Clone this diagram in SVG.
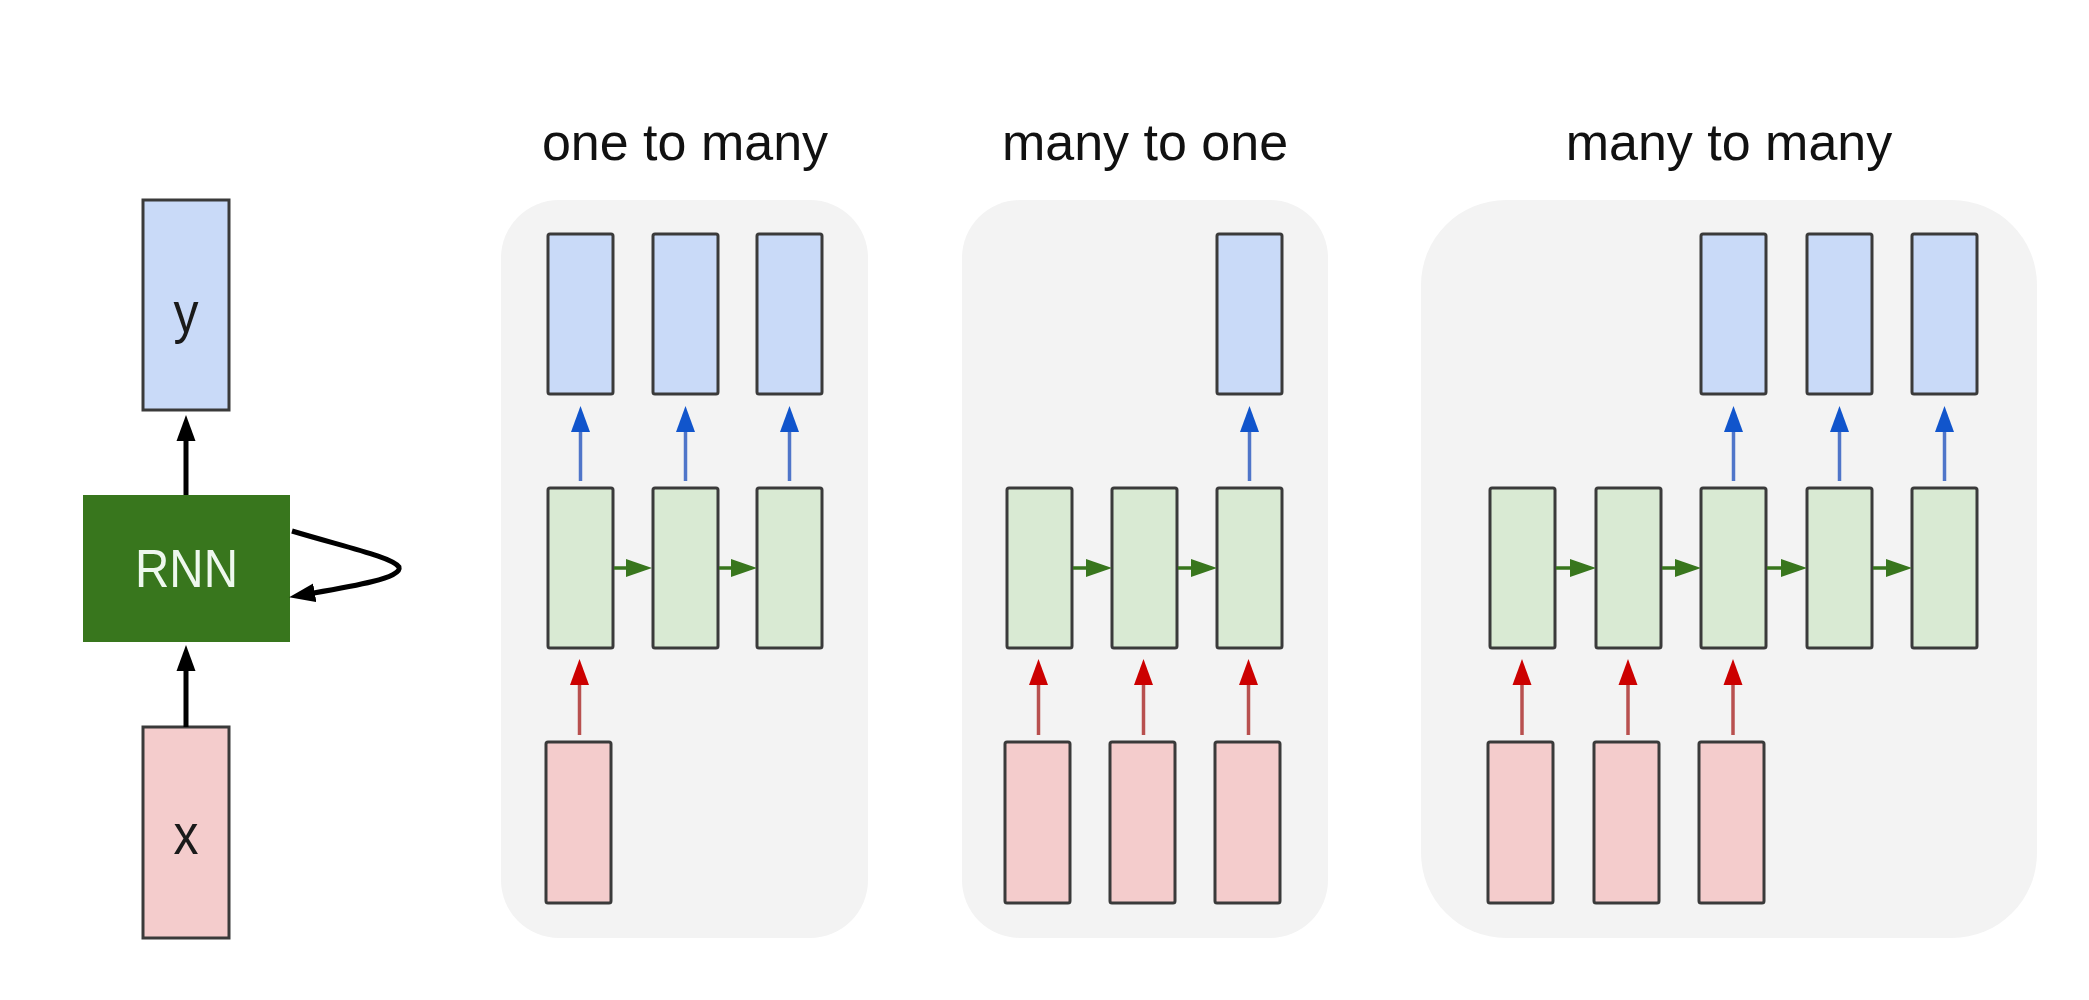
<svg xmlns="http://www.w3.org/2000/svg" width="2089" height="1000" viewBox="0 0 2089 1000">
<style>
.bg{fill:#f3f3f3}
.box{stroke:#3a3a3a;stroke-width:3}
.o{fill:#c9daf8}
.h{fill:#d9ead3}
.i{fill:#f4cccc}
.title{font-family:"Liberation Sans",Arial,sans-serif;font-size:52px;fill:#111;text-anchor:middle}
.lbl{font-family:"Liberation Sans",Arial,sans-serif;font-size:58px;fill:#1a1a1a;text-anchor:middle}
.blk{stroke:#000;stroke-width:5;fill:none}
.bl{stroke:#4f75c9;stroke-width:3.5;fill:none}
.rd{stroke:#b8504f;stroke-width:3.5;fill:none}
.gr{stroke:#38761d;stroke-width:3.5;fill:none}
</style>
<defs>
<marker id="mk" viewBox="0 0 26 20" markerWidth="26" markerHeight="20" refX="16" refY="10" orient="auto" markerUnits="userSpaceOnUse"><path d="M0,0.5 L26,10 L0,19.5 z" fill="#000"/></marker>
<marker id="mb" viewBox="0 0 26 20" markerWidth="26" markerHeight="20" refX="16" refY="10" orient="auto" markerUnits="userSpaceOnUse"><path d="M0,0.5 L26,10 L0,19.5 z" fill="#1155cc"/></marker>
<marker id="mr" viewBox="0 0 26 20" markerWidth="26" markerHeight="20" refX="16" refY="10" orient="auto" markerUnits="userSpaceOnUse"><path d="M0,0.5 L26,10 L0,19.5 z" fill="#cc0000"/></marker>
<marker id="mg" viewBox="0 0 26 19" markerWidth="26" markerHeight="19" refX="16" refY="9.5" orient="auto" markerUnits="userSpaceOnUse"><path d="M0,0.5 L26,9.5 L0,18.5 z" fill="#38761d"/></marker>
</defs>
<rect width="2089" height="1000" fill="#fff"/>

<g id="titles">
<text class="title" x="685" y="160">one to many</text>
<text class="title" x="1145" y="160">many to one</text>
<text class="title" x="1729" y="160">many to many</text>
</g>

<g id="panels">
<rect class="bg" x="501" y="200" width="367" height="738" rx="58"/>
<rect class="bg" x="962" y="200" width="366" height="738" rx="58"/>
<rect class="bg" x="1421" y="200" width="616" height="738" rx="85"/>
</g>

<g id="node-y"><rect class="box o" x="143" y="200" width="86" height="210"/><text class="lbl" x="186" y="332" textLength="25" lengthAdjust="spacingAndGlyphs">y</text></g>
<g id="node-rnn"><rect x="83" y="495" width="207" height="147" fill="#38761d"/><text x="186.5" y="587" font-family="Liberation Sans, Arial, sans-serif" font-size="54" fill="#eef8ee" text-anchor="middle" textLength="103" lengthAdjust="spacingAndGlyphs">RNN</text></g>
<g id="node-x"><rect class="box i" x="143" y="727" width="86" height="211"/><text class="lbl" x="186" y="854" textLength="25" lengthAdjust="spacingAndGlyphs">x</text></g>

<g id="p1-nodes">
<rect id="p1-y1" class="box o" x="548" y="234" width="65" height="160" rx="2"/>
<rect id="p1-y2" class="box o" x="653" y="234" width="65" height="160" rx="2"/>
<rect id="p1-y3" class="box o" x="757" y="234" width="65" height="160" rx="2"/>
<rect id="p1-h1" class="box h" x="548" y="488" width="65" height="160" rx="2"/>
<rect id="p1-h2" class="box h" x="653" y="488" width="65" height="160" rx="2"/>
<rect id="p1-h3" class="box h" x="757" y="488" width="65" height="160" rx="2"/>
<rect id="p1-x1" class="box i" x="546" y="742" width="65" height="161" rx="2"/>
</g>

<g id="p2-nodes">
<rect id="p2-y3" class="box o" x="1217" y="234" width="65" height="160" rx="2"/>
<rect id="p2-h1" class="box h" x="1007" y="488" width="65" height="160" rx="2"/>
<rect id="p2-h2" class="box h" x="1112" y="488" width="65" height="160" rx="2"/>
<rect id="p2-h3" class="box h" x="1217" y="488" width="65" height="160" rx="2"/>
<rect id="p2-x1" class="box i" x="1005" y="742" width="65" height="161" rx="2"/>
<rect id="p2-x2" class="box i" x="1110" y="742" width="65" height="161" rx="2"/>
<rect id="p2-x3" class="box i" x="1215" y="742" width="65" height="161" rx="2"/>
</g>

<g id="p3-nodes">
<rect id="p3-y3" class="box o" x="1701" y="234" width="65" height="160" rx="2"/>
<rect id="p3-y4" class="box o" x="1807" y="234" width="65" height="160" rx="2"/>
<rect id="p3-y5" class="box o" x="1912" y="234" width="65" height="160" rx="2"/>
<rect id="p3-h1" class="box h" x="1490" y="488" width="65" height="160" rx="2"/>
<rect id="p3-h2" class="box h" x="1596" y="488" width="65" height="160" rx="2"/>
<rect id="p3-h3" class="box h" x="1701" y="488" width="65" height="160" rx="2"/>
<rect id="p3-h4" class="box h" x="1807" y="488" width="65" height="160" rx="2"/>
<rect id="p3-h5" class="box h" x="1912" y="488" width="65" height="160" rx="2"/>
<rect id="p3-x1" class="box i" x="1488" y="742" width="65" height="161" rx="2"/>
<rect id="p3-x2" class="box i" x="1594" y="742" width="65" height="161" rx="2"/>
<rect id="p3-x3" class="box i" x="1699" y="742" width="65" height="161" rx="2"/>
</g>

<g id="connectors">
<line class="blk" x1="186" y1="495" x2="186" y2="425" marker-end="url(#mk)"/>
<line class="blk" x1="186" y1="727" x2="186" y2="655" marker-end="url(#mk)"/>
<path class="blk" d="M292,531 C345,547 392,557 399,567 C403,579 342,588 299,595.5" stroke-width="4" marker-end="url(#mk)"/>

<line class="bl" x1="580.5" y1="481" x2="580.5" y2="416" marker-end="url(#mb)"/>
<line class="bl" x1="685.5" y1="481" x2="685.5" y2="416" marker-end="url(#mb)"/>
<line class="bl" x1="789.5" y1="481" x2="789.5" y2="416" marker-end="url(#mb)"/>
<line class="rd" x1="579.5" y1="735" x2="579.5" y2="669" marker-end="url(#mr)"/>
<line class="gr" x1="614" y1="568" x2="642" y2="568" marker-end="url(#mg)"/>
<line class="gr" x1="719" y1="568" x2="747" y2="568" marker-end="url(#mg)"/>

<line class="bl" x1="1249.5" y1="481" x2="1249.5" y2="416" marker-end="url(#mb)"/>
<line class="rd" x1="1038.5" y1="735" x2="1038.5" y2="669" marker-end="url(#mr)"/>
<line class="rd" x1="1143.5" y1="735" x2="1143.5" y2="669" marker-end="url(#mr)"/>
<line class="rd" x1="1248.5" y1="735" x2="1248.5" y2="669" marker-end="url(#mr)"/>
<line class="gr" x1="1073" y1="568" x2="1102" y2="568" marker-end="url(#mg)"/>
<line class="gr" x1="1178" y1="568" x2="1207" y2="568" marker-end="url(#mg)"/>

<line class="bl" x1="1733.5" y1="481" x2="1733.5" y2="416" marker-end="url(#mb)"/>
<line class="bl" x1="1839.5" y1="481" x2="1839.5" y2="416" marker-end="url(#mb)"/>
<line class="bl" x1="1944.5" y1="481" x2="1944.5" y2="416" marker-end="url(#mb)"/>
<line class="rd" x1="1522" y1="735" x2="1522" y2="669" marker-end="url(#mr)"/>
<line class="rd" x1="1628" y1="735" x2="1628" y2="669" marker-end="url(#mr)"/>
<line class="rd" x1="1733" y1="735" x2="1733" y2="669" marker-end="url(#mr)"/>
<line class="gr" x1="1556" y1="568" x2="1586" y2="568" marker-end="url(#mg)"/>
<line class="gr" x1="1662" y1="568" x2="1691" y2="568" marker-end="url(#mg)"/>
<line class="gr" x1="1767" y1="568" x2="1797" y2="568" marker-end="url(#mg)"/>
<line class="gr" x1="1873" y1="568" x2="1902" y2="568" marker-end="url(#mg)"/>
</g>
</svg>
